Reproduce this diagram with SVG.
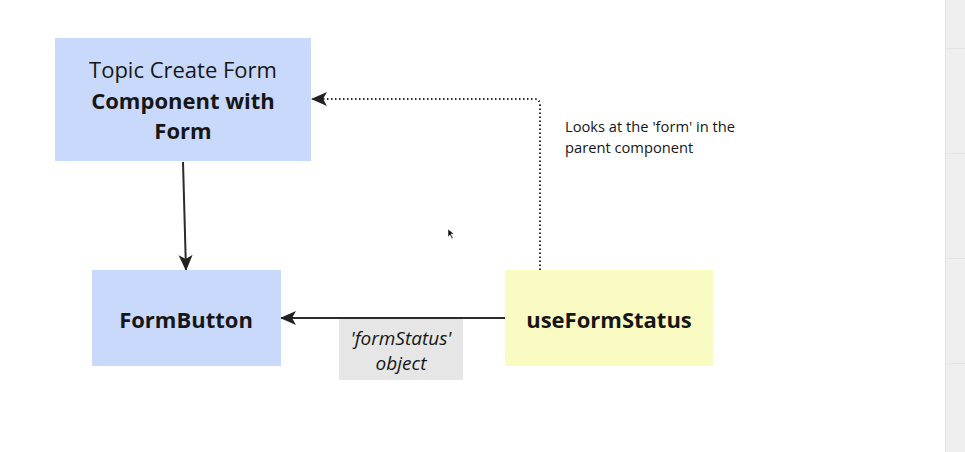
<svg xmlns="http://www.w3.org/2000/svg" width="965" height="452" viewBox="0 0 965 452">
<style>
text{font-family:"Open Sans","Noto Sans","Liberation Sans",sans-serif;fill:#161616}
.b{font-weight:700}
.conn{fill:none;stroke:#2b2b2b;stroke-width:2}
.dot{fill:none;stroke:#2b2b2b;stroke-width:2;stroke-dasharray:1.5 2.5}
</style>
<defs>
<marker id="ah" viewBox="0 0 16 16" refX="15" refY="8" markerWidth="16" markerHeight="16" markerUnits="userSpaceOnUse" orient="auto">
<path d="M0,1 L16,8 L0,15 L4,8 Z" fill="#222"/>
</marker>
</defs>
<rect width="965" height="452" fill="#ffffff"/>
<g id="sidebar">
<rect x="945" y="0" width="20" height="452" fill="#efefef"/>
<line x1="945.5" y1="0" x2="945.5" y2="452" stroke="#e2e2e2"/>
<g stroke="#e4e4e4" stroke-width="1">
<line x1="946" y1="48.5" x2="965" y2="48.5"/>
<line x1="946" y1="153.5" x2="965" y2="153.5"/>
<line x1="946" y1="258.5" x2="965" y2="258.5"/>
<line x1="946" y1="363.5" x2="965" y2="363.5"/>
</g>
</g>
<g id="connectors">
<path class="conn" d="M183,162 L186,270" marker-end="url(#ah)"/>
<path class="conn" d="M505,318 L281,318" marker-end="url(#ah)"/>
<path class="dot" d="M540,270 L540,105 Q540,99 534,99 L312,99" marker-end="url(#ah)"/>
</g>
<g id="topic-create-form">
<rect x="55" y="38" width="256" height="123" fill="#c9d9fb"/>
<text x="183" y="78" font-size="22" text-anchor="middle">Topic Create Form</text>
<text x="183" y="109" font-size="22" class="b" text-anchor="middle">Component with</text>
<text x="183" y="139" font-size="22" class="b" text-anchor="middle">Form</text>
</g>
<g id="form-button">
<rect x="92" y="270" width="189" height="96" fill="#c9d9fb"/>
<text x="186" y="328" font-size="22" class="b" text-anchor="middle">FormButton</text>
</g>
<g id="use-form-status">
<rect x="505" y="270" width="208" height="96" fill="#fafac3"/>
<text x="609" y="328" font-size="22" class="b" text-anchor="middle">useFormStatus</text>
</g>
<g id="label-formstatus">
<rect x="339" y="319" width="124" height="61" fill="#e6e6e6"/>
<text x="401" y="345" font-size="19" font-style="italic" text-anchor="middle">'formStatus'</text>
<text x="401" y="370" font-size="19" font-style="italic" text-anchor="middle">object</text>
</g>
<g id="note">
<text x="565" y="132" font-size="14.7">Looks at the 'form' in the</text>
<text x="565" y="153" font-size="14.7">parent component</text>
</g>
<g id="cursor">
<path d="M448,229 L448,237 L450,235 L452,239 L453,238 L451,234 L454,234 Z" fill="#111" stroke="#fff" stroke-width="0.5"/>
</g>
</svg>
